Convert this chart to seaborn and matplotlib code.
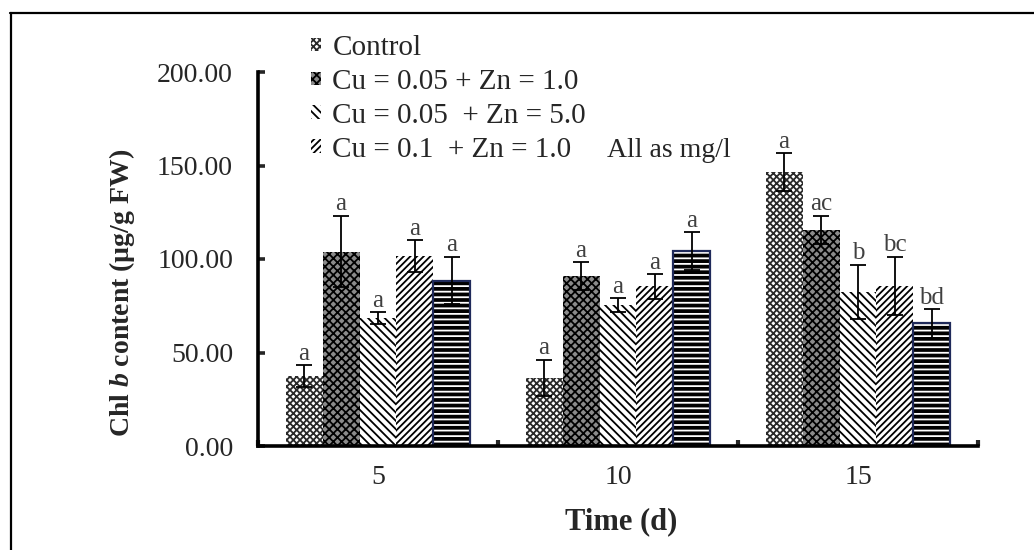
import pandas as pd
import numpy as np
import matplotlib
matplotlib.use("Agg")
import matplotlib.pyplot as plt
import matplotlib.patches as mpatches
from matplotlib.lines import Line2D
import seaborn as sns

# ── data ────────────────────────────────────────────────────────────────────
TIMES      = ["5", "10", "15"]
TREATMENTS = ["Control", "Cu = 0.05 + Zn = 1.0", "Cu = 0.05  + Zn = 5.0",
              "Cu = 0.1  + Zn = 1.0", "Cu = 0.1 + Zn = 5.0"]
control    = [37.5, 36.5, 146.5]
cu05_zn1   = [104.0, 90.7, 115.5]
cu05_zn5   = [68.5, 75.3, 82.5]
cu1_zn1    = [101.5, 85.3, 85.6]
cu1_zn5    = [88.4, 104.3, 65.6]
err_control  = [5.7, 9.5, 10.0]
err_cu05_zn1 = [19.0, 7.5, 7.5]
err_cu05_zn5 = [3.0, 3.7, 14.5]
err_cu1_zn1  = [8.5, 6.5, 15.6]
err_cu1_zn5  = [12.7, 10.0, 7.6]
letters = [["a", "a", "a"], ["a", "a", "ac"], ["a", "a", "b"],
           ["a", "a", "bc"], ["a", "a", "bd"]]

values = [control, cu05_zn1, cu05_zn5, cu1_zn1, cu1_zn5]
errors = [err_control, err_cu05_zn1, err_cu05_zn5, err_cu1_zn1, err_cu1_zn5]

df = pd.DataFrame({
    "Time": np.tile(TIMES, len(TREATMENTS)),
    "Treatment": np.repeat(TREATMENTS, len(TIMES)),
    "Value": np.concatenate(values),
})

# hatch styles: (face, hatch, hatch colour)
STYLES = [("white", "xxxxx", "#2a2a2a"),
          ("#8a8a8a", "xxxx", "black"),
          ("white", "\\\\\\\\", "black"),
          ("white", "/////", "black"),
          ("black", "---", "white")]

sns.set_style("white")
plt.rcParams["font.family"] = ["Liberation Serif", "DejaVu Serif"]
plt.rcParams["mathtext.fontset"] = "custom"
plt.rcParams["mathtext.it"] = "Liberation Serif:italic:bold"
plt.rcParams["mathtext.rm"] = "Liberation Serif:bold"
plt.rcParams["hatch.linewidth"] = 1.3

W, H = 1034, 550
fig = plt.figure(figsize=(W / 100, H / 100), dpi=100)
ax = fig.add_axes([258 / W, 1 - 446 / H, 720 / W, 374 / H])

sns.barplot(data=df, x="Time", y="Value", hue="Treatment", order=TIMES,
            hue_order=TREATMENTS, width=0.77, errorbar=None, legend=False,
            palette=["white"] * 5, ax=ax)

bar_containers = list(ax.containers)
for i, cont in enumerate(bar_containers):
    face, hatch, hcol = STYLES[i]
    xs, ys = [], []
    for j, bar in enumerate(cont.patches):
        bar.set_facecolor(face)
        bar.set_hatch(hatch)
        bar.set_edgecolor(hcol)
        bar.set_linewidth(0)
        xc = bar.get_x() + bar.get_width() / 2
        xs.append(xc)
        ys.append(bar.get_height())
        if i == 4:
            ax.add_patch(mpatches.Rectangle((bar.get_x(), 0), bar.get_width(),
                         bar.get_height(), fill=False, edgecolor="#1f2a5a",
                         linewidth=1.6, zorder=bar.get_zorder() + 0.1))
        ax.annotate(letters[i][j], (xc, ys[-1] + errors[i][j]),
                    xytext=(0, 4), textcoords="offset points",
                    ha="center", va="baseline", fontsize=18, color="#404040")
    ax.errorbar(xs, ys, yerr=errors[i], fmt="none", ecolor="black",
                elinewidth=1.3, capsize=6, capthick=1.3, zorder=5)

ax.set_xlim(-0.5, 2.5)
ax.set_ylim(0, 200)
ax.set_yticks([0, 50, 100, 150, 200])
ax.set_yticklabels([f"{v:.2f}" for v in [0, 50, 100, 150, 200]])
ax.set_xticks([-0.5, 0.5, 1.5, 2.5], minor=True)
ax.tick_params(axis="y", which="major", direction="in", length=5, width=2.6,
               labelsize=20, pad=18, left=True)
ax.tick_params(axis="x", which="major", length=0, labelsize=20, pad=14)
ax.tick_params(axis="x", which="minor", direction="in", length=4, width=3,
               bottom=True)
for s in ["top", "right"]:
    ax.spines[s].set_visible(False)
for s in ["left", "bottom"]:
    ax.spines[s].set_linewidth(2.6)
    ax.spines[s].set_color("black")

ax.set_xlabel("Time (d)", fontsize=22, fontweight="bold")
ax.set_ylabel(r"Chl $\mathit{b}$ content (µg/g FW)", fontsize=20,
              fontweight="bold")
ax.xaxis.set_label_coords(0.505, -0.165)
ax.yaxis.set_label_coords(-0.168, 0.41)

handles = [mpatches.Patch(facecolor=STYLES[i][0], hatch=STYLES[i][1],
                          edgecolor=STYLES[i][2], linewidth=0)
           for i in range(4)]
fig.legend(handles, TREATMENTS[:4], loc="upper left",
           bbox_to_anchor=(311 / W, 1 - 35 / H), frameon=False, fontsize=21,
           handlelength=0.35, handleheight=0.35, handletextpad=0.38,
           labelspacing=0.27, borderpad=0, borderaxespad=0)

fig.text(607 / W, 1 - 157 / H, "All as mg/l", fontsize=20, ha="left",
         va="baseline")

# figure frame (top and left edges)
fig.add_artist(Line2D([10 / W, 1.0], [1 - 12.5 / H] * 2, color="black", lw=1.6,
                      transform=fig.transFigure))
fig.add_artist(Line2D([10.5 / W] * 2, [0.0, 1 - 12.5 / H], color="black",
                      lw=1.6, transform=fig.transFigure))

fig.savefig("out.png", dpi=100)
